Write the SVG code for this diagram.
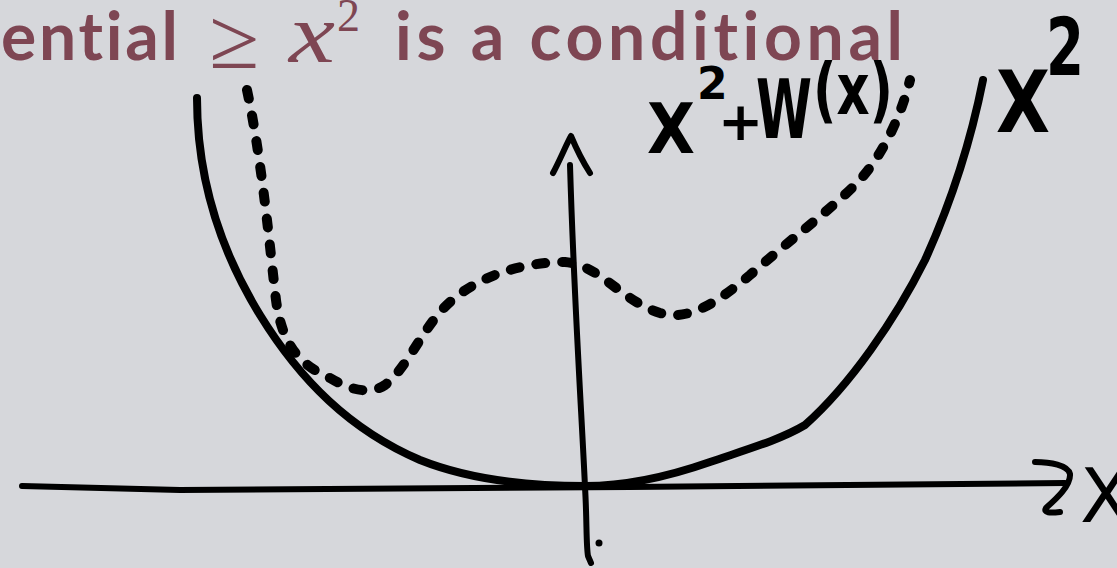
<svg xmlns="http://www.w3.org/2000/svg" width="1117" height="568" viewBox="0 0 1117 568">
<style>
.ink{fill:none;stroke:#000;stroke-linecap:round;stroke-linejoin:round}
.title{font-family:Lato,"Noto Sans",sans-serif;font-weight:700;font-size:66px;fill:#7e4653;font-variant-ligatures:none}
.math{font-family:"Liberation Serif","DejaVu Serif",serif;fill:#7e4653}
.hand{font-family:"DejaVu Sans","Liberation Sans",sans-serif;font-weight:700;fill:#000}
</style>
<rect width="1117" height="568" fill="#d6d7db"/>
<g id="title">
<text class="title" x="1" y="60" textLength="177" lengthAdjust="spacing">ential</text>
<text class="math" x="209" y="68" font-size="86" textLength="50" lengthAdjust="spacingAndGlyphs">≥</text>
<text class="math" x="289" y="62" font-size="84" font-style="italic" textLength="46" lengthAdjust="spacingAndGlyphs">x</text>
<text class="math" x="337" y="31" font-size="46">2</text>
<text class="title" x="395" y="60" textLength="508" lengthAdjust="spacing">is a conditional</text>
</g>
<g id="axes">
<path id="x-axis" class="ink" stroke-width="6" d="M22,486 L180,490 L630,487 L1065,483"/>
<path id="x-arrowhead" class="ink" stroke-width="6" d="M1035,462 C1050,462 1068,465 1070,474 C1071,486 1055,500 1046,508 C1043,513 1050,513 1060,512"/>
<path id="y-axis" class="ink" stroke-width="6" d="M570,165 C574,300 582,420 585,487 C587,520 586,545 588,556 L591,563"/>
<path id="y-arrowhead" class="ink" stroke-width="6" d="M553,173 C560,160 566,145 571,136 C576,148 583,162 590,173"/>
<circle id="origin-dot" cx="599" cy="543" r="3.5" fill="#000"/>
<text id="x-label" x="1080" y="522" font-size="75" style="font-family:'DejaVu Sans','Liberation Sans',sans-serif;font-weight:400;fill:#000">X</text>
</g>
<g id="curve-x2">
<path class="ink" stroke-width="8" d="M197,98 C197,180 220,250 260,315 C300,380 350,430 420,460 C470,480 530,486 585,486 C630,486 670,476 710,462 C745,450 780,440 805,425 C850,385 895,320 925,260 C950,205 970,145 983,80"/>
</g>
<g id="curve-x2-plus-w">
<path class="ink" stroke-width="10" stroke-dasharray="9 17" d="M247,90 C262,160 270,250 276,300 C282,345 300,365 330,378 C350,390 370,395 385,385 C405,370 420,335 440,312 C470,278 520,262 565,262 C600,265 620,300 660,313 C690,322 720,300 750,275 C790,240 830,210 855,185 C880,160 900,120 910,80"/>
</g>
<g id="label-x2-plus-w">
<text class="hand" x="647" y="153" font-size="70" textLength="48" lengthAdjust="spacingAndGlyphs">X</text>
<text class="hand" x="697" y="99" font-size="44">2</text>
<text class="hand" x="718" y="140" font-size="54">+</text>
<text class="hand" x="756" y="138" font-size="82" textLength="56" lengthAdjust="spacingAndGlyphs">W</text>
<text class="hand" x="813" y="114" font-size="72" textLength="80" lengthAdjust="spacingAndGlyphs">(x)</text>
</g>
<g id="label-x2">
<text class="hand" x="996" y="132" font-size="85" textLength="54" lengthAdjust="spacingAndGlyphs">X</text>
<text class="hand" x="1046" y="75" font-size="80" textLength="38" lengthAdjust="spacingAndGlyphs">2</text>
</g>
</svg>
